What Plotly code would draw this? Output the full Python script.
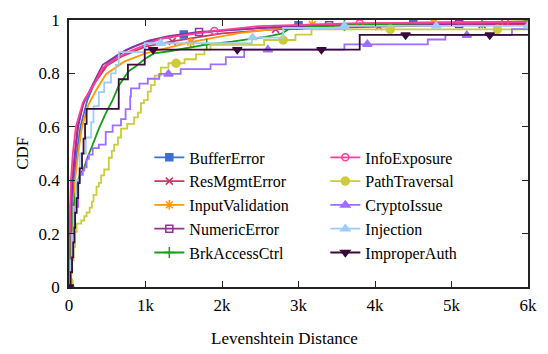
import numpy as np
import plotly.graph_objects as go

# ---------------- data (distance, CDF) ----------------
names = ["BufferError", "ResMgmtError", "InputValidation", "NumericError", "BrkAccessCtrl",
         "InfoExposure", "PathTraversal", "CryptoIssue", "Injection", "ImproperAuth"]

buffer_x = [0, 15, 30, 50, 70, 100, 150, 240, 370, 520, 740, 1000, 1480, 2000, 3000, 4500, 6000]
buffer_y = [0, 0.1, 0.2, 0.3, 0.4, 0.5, 0.6, 0.7, 0.79, 0.844, 0.887, 0.917, 0.945, 0.96, 0.98, 0.99, 0.993]

resmgmt_x = [0, 10, 20, 40, 70, 110, 200, 350, 500, 700, 1000, 1350, 2000, 2700, 4050, 6000]
resmgmt_y = [0, 0.15, 0.3, 0.4, 0.5, 0.6, 0.7, 0.77, 0.83, 0.865, 0.9, 0.92, 0.95, 0.965, 0.975, 0.985]

inputval_x = [0, 20, 40, 60, 80, 120, 170, 250, 350, 480, 720, 1000, 1590, 2200, 3170, 4760, 6000]
inputval_y = [0, 0.1, 0.2, 0.3, 0.4, 0.5, 0.6, 0.68, 0.735, 0.796, 0.844, 0.875, 0.917, 0.95, 0.983, 0.99, 0.995]

numeric_x = [0, 10, 20, 30, 50, 80, 120, 180, 290, 440, 630, 830, 1040, 1300, 1700, 2500, 3400, 5000, 6000]
numeric_y = [0, 0.1, 0.2, 0.3, 0.4, 0.5, 0.6, 0.68, 0.747, 0.832, 0.868, 0.899, 0.923, 0.94, 0.955, 0.97, 0.98, 0.985, 0.988]

brkaccess_x = [0, 10, 30, 60, 100, 140, 200, 240, 310, 390, 480, 570, 650, 780, 870, 1000, 1110, 1310,
               1810, 2130, 2570, 2780, 2870, 3200, 4000, 5400, 6000]
brkaccess_y = [0, 0.1, 0.2, 0.3, 0.38, 0.42, 0.448, 0.484, 0.533, 0.593, 0.65, 0.70, 0.754, 0.808, 0.826,
               0.856, 0.875, 0.883, 0.909, 0.919, 0.937, 0.949, 0.965, 0.975, 0.985, 0.99, 0.995]

infoexp_x = [0, 5, 15, 25, 50, 90, 180, 330, 440, 610, 830, 1200, 1900, 2480, 3800, 6000]
infoexp_y = [0, 0.15, 0.3, 0.4, 0.5, 0.6, 0.69, 0.76, 0.82, 0.856, 0.887, 0.93, 0.959, 0.977, 0.988, 0.992]

pathtrav_x = [0, 20, 40, 60, 80, 100, 160, 200, 230, 270, 300, 320, 360, 390, 420, 460, 520, 560, 590, 640,
              680, 760, 850, 900, 940, 980, 1030, 1070, 1120, 1200, 1300, 1510, 1660, 1770, 1850, 2550, 2960,
              3170, 6000]
pathtrav_y = [0.02, 0.05, 0.1, 0.15, 0.207, 0.237, 0.249, 0.265, 0.279, 0.297, 0.32, 0.345, 0.376, 0.39,
              0.418, 0.44, 0.484, 0.51, 0.533, 0.56, 0.593, 0.611, 0.635, 0.653, 0.689, 0.70, 0.732, 0.756,
              0.792, 0.822, 0.838, 0.853, 0.871, 0.889, 0.907, 0.925, 0.945, 0.965, 0.965]

crypto_x = [0, 20, 40, 70, 120, 140, 180, 200, 230, 260, 310, 390, 480, 570, 680, 740, 800, 810, 920, 1030,
            1180, 1460, 1850, 2050, 2290, 3600, 4690, 4920, 5790, 6000]
crypto_y = [0, 0.1, 0.2, 0.3, 0.4, 0.42, 0.436, 0.448, 0.48, 0.496, 0.52, 0.533, 0.581, 0.605, 0.629, 0.666,
            0.714, 0.744, 0.762, 0.78, 0.798, 0.816, 0.834, 0.861, 0.889, 0.909, 0.927, 0.943, 0.966, 0.966]

injection_x = [0, 10, 20, 40, 60, 90, 140, 220, 290, 320, 390, 460, 550, 610, 650, 990, 2390, 2800, 3600, 6000]
injection_y = [0, 0.05, 0.1, 0.2, 0.3, 0.4, 0.5, 0.56, 0.617, 0.677, 0.73, 0.766, 0.80, 0.832, 0.88, 0.913,
               0.934, 0.97, 0.978, 0.978]

improper_x = [0, 20, 40, 55, 70, 80, 100, 120, 140, 170, 190, 210, 230, 650, 770, 990, 3800, 6000]
improper_y = [0, 0.056, 0.111, 0.167, 0.222, 0.278, 0.333, 0.389, 0.444, 0.5, 0.556, 0.611, 0.667, 0.778,
              0.833, 0.889, 0.944, 0.944]

# distances at which each series shows a point symbol
buffer_mx = [0, 1500, 3000, 4500, 6000]
resmgmt_mx = [0, 1350, 2700, 4050, 5400]
inputval_mx = [0, 1590, 3180, 4770]
numeric_mx = [0, 1700, 3400, 5100]
brkaccess_mx = [0, 1800, 3600, 5400]
infoexp_mx = [0, 1900, 3800, 5700]
pathtrav_mx = [0, 1400, 2800, 4200, 5600]
crypto_mx = [0, 1300, 2600, 3900, 5200]
injection_mx = [0, 1200, 2400, 3600, 4800, 6000]
improper_mx = [0, 1100, 2200, 3300, 4400, 5500]

x_tickvals = [0, 1000, 2000, 3000, 4000, 5000, 6000]
x_ticktext = ["0", "1k", "2k", "3k", "4k", "5k", "6k"]
y_tickvals = [0, 0.2, 0.4, 0.6, 0.8, 1.0]
y_ticktext = ["0", "0.2", "0.4", "0.6", "0.8", "1"]

# ---------------- styling ----------------
series = [
    # name, xs, ys, marker xs, color, symbol, size, shape
    ("BufferError", buffer_x, buffer_y, buffer_mx, "#3b6fd6", "square", 7, "linear"),
    ("ResMgmtError", resmgmt_x, resmgmt_y, resmgmt_mx, "#c9385f", "x-thin-open", 7, "linear"),
    ("InputValidation", inputval_x, inputval_y, inputval_mx, "#ff9a00", "asterisk-open", 8, "linear"),
    ("NumericError", numeric_x, numeric_y, numeric_mx, "#93309c", "square-open", 7, "linear"),
    ("BrkAccessCtrl", brkaccess_x, brkaccess_y, brkaccess_mx, "#14a014", "cross-thin-open", 8, "linear"),
    ("InfoExposure", infoexp_x, infoexp_y, infoexp_mx, "#ff3d9a", "circle-open", 7, "linear"),
    ("PathTraversal", pathtrav_x, pathtrav_y, pathtrav_mx, "#cccc3a", "circle", 8, "hv"),
    ("CryptoIssue", crypto_x, crypto_y, crypto_mx, "#9d6eff", "triangle-up", 8, "hv"),
    ("Injection", injection_x, injection_y, injection_mx, "#9dcdfb", "triangle-up", 8, "hv"),
    ("ImproperAuth", improper_x, improper_y, improper_mx, "#3a0a3a", "triangle-down", 8, "hv"),
]
legend_rank = {"BufferError": 1, "InfoExposure": 2, "ResMgmtError": 3, "PathTraversal": 4,
               "InputValidation": 5, "CryptoIssue": 6, "NumericError": 7, "Injection": 8,
               "BrkAccessCtrl": 9, "ImproperAuth": 10}

FONT = "Liberation Serif"
fig = go.Figure()

for name, xs, ys, mxs, color, sym, size, shape in series:
    xs_a = np.array(xs, dtype=float)
    ys_a = np.array(ys, dtype=float)
    mx_a = np.array(mxs, dtype=float)
    if shape == "hv":
        idx = np.clip(np.searchsorted(xs_a, mx_a, side="right") - 1, 0, len(ys_a) - 1)
        my = ys_a[idx]
    else:
        my = np.interp(mx_a, xs_a, ys_a)
    mk = dict(symbol=sym, size=size, color=color, line=dict(color=color, width=1.5))
    fig.add_trace(go.Scatter(x=xs, y=ys, mode="lines", line=dict(color=color, width=1.8, shape=shape),
                             showlegend=False, hoverinfo="skip"))
    fig.add_trace(go.Scatter(x=mx_a, y=my, mode="markers", marker=mk, showlegend=False, hoverinfo="skip"))
    fig.add_trace(go.Scatter(x=[None], y=[None], mode="lines+markers", name=name,
                             line=dict(color=color, width=1.8), marker=mk,
                             legendrank=legend_rank[name]))

axis_common = dict(showline=True, linecolor="#222222", linewidth=1.5, mirror="allticks",
                   ticks="inside", ticklen=6, tickwidth=1.2, tickcolor="#222222",
                   showgrid=False, zeroline=False,
                   tickfont=dict(family=FONT, size=17, color="black"))

fig.update_layout(
    width=548, height=354,
    margin=dict(l=69, r=17, t=11, b=67),
    paper_bgcolor="white", plot_bgcolor="white",
    xaxis=dict(range=[0, 6000], tickvals=x_tickvals, ticktext=x_ticktext, ticklabelstandoff=2, **axis_common),
    yaxis=dict(range=[0, 1], tickvals=y_tickvals, ticktext=y_ticktext, ticklabelstandoff=4, **axis_common),
    legend=dict(orientation="h", entrywidth=131, entrywidthmode="pixels",
                x=0.175, y=0.549, xanchor="left", yanchor="top",
                bgcolor="rgba(0,0,0,0)", font=dict(family=FONT, size=16, color="black"),
                traceorder="normal", itemclick=False),
    annotations=[
        dict(text="Levenshtein Distance", xref="paper", yref="paper", x=0.4697, y=-0.192,
             xanchor="center", yanchor="middle", showarrow=False,
             font=dict(family=FONT, size=17, color="black")),
        dict(text="CDF", xref="paper", yref="paper", x=-0.1017, y=0.5, textangle=-90,
             xanchor="center", yanchor="middle", showarrow=False,
             font=dict(family=FONT, size=17, color="black")),
    ],
)

fig.write_html("out.html")
